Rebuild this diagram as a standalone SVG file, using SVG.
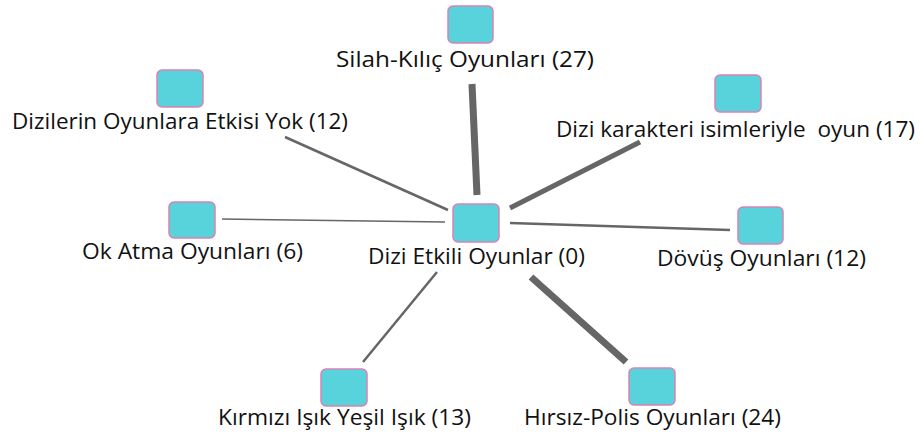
<svg xmlns="http://www.w3.org/2000/svg" width="920" height="437" viewBox="0 0 920 437">
<style>
.n{fill:#58d3dc;stroke:#d982b4;stroke-width:1.5}
.t{font-family:"Open Sans","Noto Sans",sans-serif;font-size:21px;fill:#111;text-anchor:middle}
.e{stroke:#666;stroke-linecap:butt}
</style>
<rect width="920" height="437" fill="#fff"/>
<g id="edges">
<line class="e" x1="472" y1="84" x2="477" y2="195" stroke-width="7"/>
<line class="e" x1="285" y1="137" x2="448" y2="210" stroke-width="2.5"/>
<line class="e" x1="640" y1="142" x2="510" y2="208" stroke-width="5"/>
<line class="e" x1="222" y1="219" x2="445" y2="222" stroke-width="1.5"/>
<line class="e" x1="510" y1="223" x2="730" y2="230" stroke-width="2.5"/>
<line class="e" x1="437" y1="272" x2="363" y2="362" stroke-width="2.5"/>
<line class="e" x1="531" y1="277" x2="626" y2="362" stroke-width="7"/>
</g>
<g id="center"><rect class="n" x="453" y="204" width="46" height="38" rx="5"/><text class="t" x="476.5" y="264" textLength="217" lengthAdjust="spacingAndGlyphs">Dizi Etkili Oyunlar (0)</text></g>
<g id="silah"><rect class="n" x="448" y="6" width="45" height="37" rx="5"/><text class="t" x="465" y="67" textLength="258" lengthAdjust="spacingAndGlyphs">Silah-Kılıç Oyunları (27)</text></g>
<g id="dizilerin"><rect class="n" x="157" y="70" width="46" height="37" rx="5"/><text class="t" x="180" y="129" textLength="336" lengthAdjust="spacingAndGlyphs">Dizilerin Oyunlara Etkisi Yok (12)</text></g>
<g id="karakter"><rect class="n" x="715" y="75" width="46" height="37" rx="5"/><text class="t" x="735.5" y="137" textLength="359" lengthAdjust="spacingAndGlyphs" xml:space="preserve">Dizi karakteri isimleriyle  oyun (17)</text></g>
<g id="okatma"><rect class="n" x="169" y="202" width="46" height="36" rx="5"/><text class="t" x="192.5" y="259" textLength="221" lengthAdjust="spacingAndGlyphs">Ok Atma Oyunları (6)</text></g>
<g id="dovus"><rect class="n" x="738" y="207" width="45" height="37" rx="5"/><text class="t" x="761.5" y="266" textLength="209" lengthAdjust="spacingAndGlyphs">Dövüş Oyunları (12)</text></g>
<g id="kirmizi"><rect class="n" x="321" y="369" width="46" height="37" rx="5"/><text class="t" x="344.5" y="425" textLength="253" lengthAdjust="spacingAndGlyphs">Kırmızı Işık Yeşil Işık (13)</text></g>
<g id="hirsiz"><rect class="n" x="629" y="368" width="46" height="37" rx="5"/><text class="t" x="652.5" y="425" textLength="257" lengthAdjust="spacingAndGlyphs">Hırsız-Polis Oyunları (24)</text></g>
</svg>
